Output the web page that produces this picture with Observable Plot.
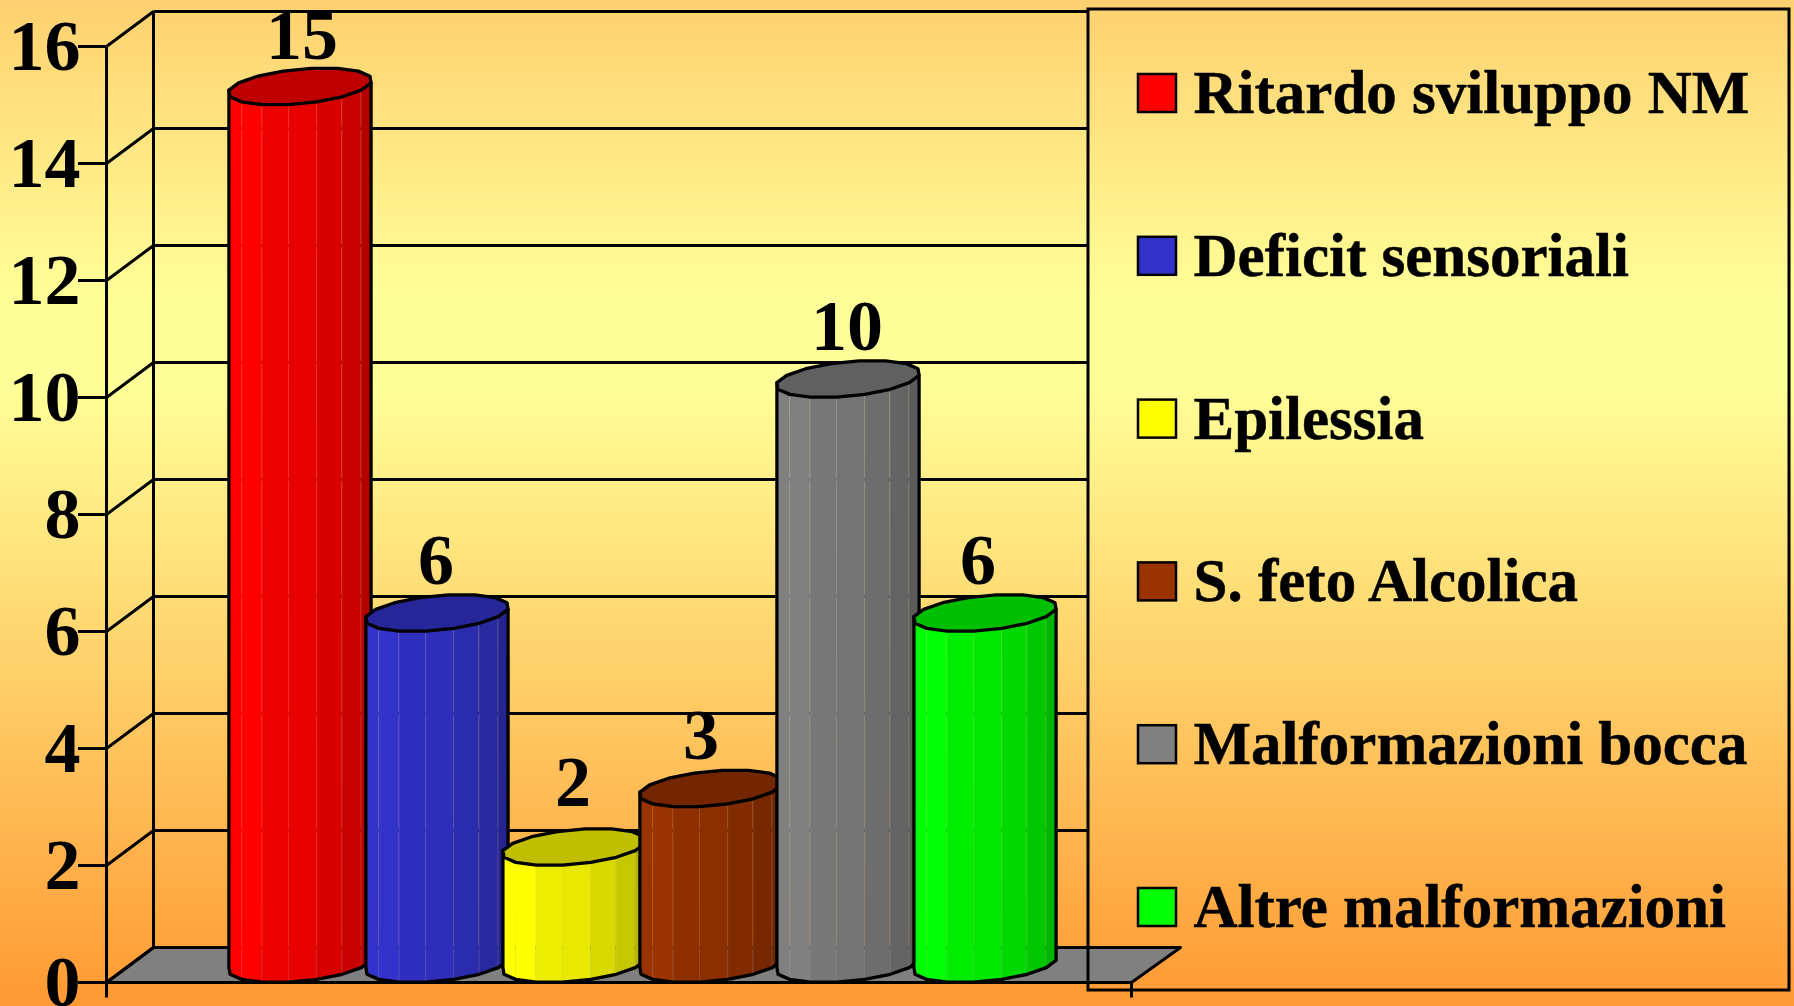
<!DOCTYPE html>
<html>
<head>
<meta charset="utf-8">
<script src="https://cdn.jsdelivr.net/npm/d3@7"></script>
<script src="https://cdn.jsdelivr.net/npm/@observablehq/plot@0.6"></script>
<style>
html,body{margin:0;padding:0;overflow:hidden;background:#ffcc66;}
</style>
</head>
<body>
<div id="chart"></div>
<script>
const categories = ["Ritardo sviluppo NM","Deficit sensoriali","Epilessia","S. feto Alcolica","Malformazioni bocca","Altre malformazioni"];
const values = [15,6,2,3,10,6];
const colors = ["#ff0000","#3333cc","#ffff00","#993300","#808080","#00ff00"];
const yTicks = [0,2,4,6,8,10,12,14,16];

// Scale geometry
const W=1794,H=1006,plotLeft=106,plotRight=1131,yTop=46,yBase=982;
const barStart=227.5,barStep=137;
const pxY=(yBase-yTop)/16;
const ux=p=>p/barStep, uy=p=>p/pxY;
const lx=p=>(p-barStart)/barStep, ly=p=>(yBase-p)/pxY;
const depthY=uy(35);
const FONT="Liberation Serif";
const LINE=3;

// Hand-placed value-label nudges seen in the picture
const labelNudgeX=[2,-1,-1,-10,-1,-7];
const labelNudgeY=[46,48,60,48,48,48];

// 16-sided cylinder section, projected along the chart's depth direction
const rad=Math.PI/180;
const vert=a=>({dx:ux(72+67.5*Math.cos(a*rad)+25*Math.sin(a*rad)),dy:uy(18.5+18.5*Math.sin(a*rad))});
const angles=d3.range(16).map(k=>-168.75+22.5*k);
const shades=[1,1,1,.93,.91,.85,.78,.71];
const shade=(c,f)=>{const r=d3.rgb(c);return d3.rgb(r.r*f,r.g*f,r.b*f).formatHex();};

const wallLines=yTicks.map(v=>({v}));
const floor=[
 {x:lx(106),y:0},{x:lx(153),y:depthY},{x:lx(1180),y:depthY},{x:lx(1131),y:0}
];

const barMarks=categories.flatMap((c,i)=>{
  const v=values[i];
  const strips=shades.flatMap((f,k)=>{
    const a=vert(angles[k]),b=vert(angles[k+1]);
    return [
      {k,x:i+a.dx,y1:a.dy,y2:v+a.dy,fill:shade(colors[i],f)},
      {k,x:i+b.dx,y1:b.dy,y2:v+b.dy,fill:shade(colors[i],f)}
    ];
  });
  const borders=d3.range(1,shades.length).map(k=>{
    const a=vert(angles[k]);return {x:i+a.dx,y1:a.dy,y2:v+a.dy};
  });
  const sil=[];
  const n=shades.length;
  sil.push({x:i+vert(angles[0]).dx,y:v+vert(angles[0]).dy});
  for(let k=0;k<=n;k++){const a=vert(angles[k]);sil.push({x:i+a.dx,y:a.dy});}
  sil.push({x:i+vert(angles[n]).dx,y:v+vert(angles[n]).dy});
  const top=angles.map(a=>{const p=vert(a);return {x:i+p.dx,y:v+p.dy};});
  return [
    Plot.areaY(strips,{x:"x",y1:"y1",y2:"y2",z:"k",fill:"fill",curve:"linear"}),
    Plot.link(borders,{x1:"x",x2:"x",y1:"y1",y2:"y2",stroke:"#fff",strokeOpacity:.1,strokeWidth:1}),
    Plot.line(sil,{x:"x",y:"y",stroke:"#000",strokeWidth:LINE+.3,fill:"none",curve:"linear"}),
    Plot.line(top,{x:"x",y:"y",stroke:"#000",strokeWidth:LINE+.3,fill:shade(colors[i],.75),curve:"linear-closed"})
  ];
});

const legendYs=categories.map((c,i)=>93+162.8*i);

const chart=Plot.plot({
  width:W,height:H,
  marginLeft:plotLeft,marginRight:W-plotRight,marginTop:yTop,marginBottom:H-yBase,
  style:{background:"linear-gradient(180deg,#ffd070 0%,#ffff99 30%,#ffff99 38%,#ff9933 100%)",display:"block",maxWidth:"none"},
  x:{domain:[lx(plotLeft),lx(plotRight)],axis:null},
  y:{domain:[0,16],axis:null},
  marks:[
    // floor
    Plot.line(floor,{x:"x",y:"y",fill:"#808080",stroke:"#000",strokeWidth:LINE,curve:"linear-closed"}),
    // back wall gridlines and side wall lines
    Plot.link(wallLines.filter(d=>d.v>0),{x1:lx(153),x2:lx(1088),y1:d=>d.v+depthY,y2:d=>d.v+depthY,stroke:"#000",strokeWidth:LINE}),
    Plot.link(wallLines,{x1:lx(106),x2:lx(153),y1:d=>d.v,y2:d=>d.v+depthY,stroke:"#000",strokeWidth:LINE}),
    Plot.link([0],{x1:lx(153),x2:lx(153),y1:depthY,y2:16+depthY,stroke:"#000",strokeWidth:LINE}),
    // front axis + baseline
    Plot.link([0],{x1:lx(106),x2:lx(106),y1:ly(997),y2:16,stroke:"#000",strokeWidth:LINE}),
    Plot.link([0],{x1:lx(106),x2:lx(1131),y1:0,y2:0,stroke:"#000",strokeWidth:LINE}),
    Plot.link([0],{x1:lx(1131),x2:lx(1131),y1:0,y2:ly(997),stroke:"#000",strokeWidth:LINE}),
    Plot.axisY({ticks:yTicks,tickSize:28,tickPadding:-2,label:null,stroke:"#000",strokeWidth:LINE,strokeOpacity:1,
      fontSize:72,fontWeight:"bold",fontFamily:FONT,fill:"#000"}),
    ...barMarks,
    // value labels
    Plot.text(values,{x:(d,i)=>i+ux(72+labelNudgeX[i]),y:(d,i)=>d+uy(labelNudgeY[i]+.32*72),text:d=>String(d),fontSize:72,fontWeight:"bold",fontFamily:FONT,fill:"#000",textAnchor:"middle",lineAnchor:"middle"}),
    // legend
    Plot.rect([0],{x1:lx(1088),x2:lx(1789),y1:ly(9),y2:ly(990),fill:"none",stroke:"#000",strokeWidth:LINE}),
    Plot.rect(categories,{x1:lx(1138),x2:lx(1176),y1:(d,i)=>ly(legendYs[i]-19),y2:(d,i)=>ly(legendYs[i]+19),fill:(d,i)=>colors[i],stroke:"#000",strokeWidth:2.5}),
    Plot.text(categories,{x:lx(1193),y:(d,i)=>ly(legendYs[i]),text:d=>d,fontSize:61,fontWeight:"bold",fontFamily:FONT,fill:"#000",stroke:"#000",strokeWidth:.5,textAnchor:"start",lineAnchor:"middle"})
  ]
});
document.getElementById("chart").appendChild(chart);
</script>
</body>
</html>
